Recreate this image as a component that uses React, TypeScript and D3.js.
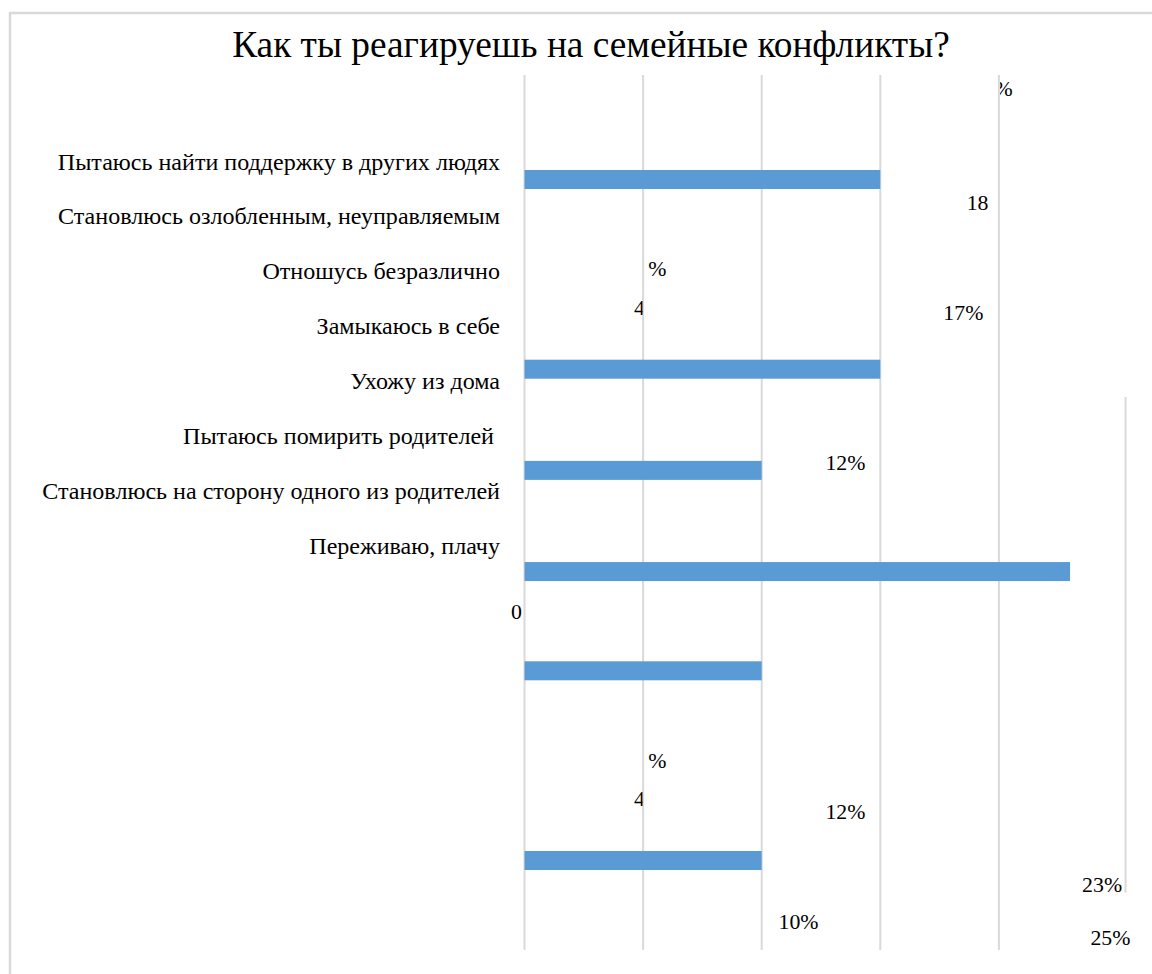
import React, { useLayoutEffect, useRef, useState } from "react";
import * as d3 from "d3";

const title = "Как ты реагируешь на семейные конфликты?";

const categories = [
  "Пытаюсь найти поддержку в других людях",
  "Становлюсь озлобленным, неуправляемым",
  "Отношусь безразлично",
  "Замыкаюсь в себе",
  "Ухожу из дома",
  "Пытаюсь помирить родителей ",
  "Становлюсь на сторону одного из родителей",
  "Переживаю, плачу",
];

// bars: value in percent, row position in chart row units
const barValues = [15, 15, 10, 23, 10, 10];
const barRows = [1.0, 2.95, 3.99, 5.03, 6.05, 8.0];

const gridTicks = [0, 5, 10, 15, 20];

// stray data labels: text, x (percent), row, clip side
const labelTexts = ["%", "18", "%", "4", "17%", "12%", "0", "%", "4", "12%", "23%", "10%", "25%"];
const labelX = [20.2, 19.1, 5.6, 4.85, 18.5, 13.53, -0.34, 5.6, 4.85, 13.53, 24.35, 11.55, 24.7];
const labelRows = [0.06, 1.24, 1.91, 2.32, 2.37, 3.91, 5.44, 6.97, 7.36, 7.5, 8.25, 8.63, 8.79];
const labelClip = ["left", "", "", "right", "", "", "", "", "right", "", "", "", ""];

const W = 1152;
const H = 974;
const FONT = "'Liberation Serif', 'Times New Roman', Tinos, Times, serif";
const GRID = "#d9d9d9";
const BAR = "#5b9bd5";

// text width targets used to size the fonts
const TITLE_W = 718;
const CAT_W = 458;
const LABEL_W = 40;

const CSS = `
svg#chartsvg, svg#chartsvg text, svg#chartsvg text.ser, svg#chartsvg tspan {
  font-family: 'Liberation Serif', 'Times New Roman', Tinos, Times, serif !important;
}
`;

export default function App() {
  const svgRef = useRef<SVGSVGElement>(null);
  const [tick, setTick] = useState(0);
  const [sizes, setSizes] = useState({ title: 36, cat: 22, label: 22 });
  const x = d3.scaleLinear().domain([0, 25]).range([524.5, 1117.5]);
  const y = d3.scaleLinear().domain([0, 9]).range([82.2, 957.8]);
  const yCat = d3.scalePoint<string>().domain(categories).range([162, 546]);
  const barH = 19;

  // fit font sizes to the reference text widths
  useLayoutEffect(() => {
    const svg = svgRef.current;
    if (!svg) return;
    const len = (sel: string) => {
      const el = svg.querySelector(sel) as SVGTextElement | null;
      return el ? el.getComputedTextLength() : 0;
    };
    const lt = len("text[data-role='title']");
    const lc = len("text[data-role='catfit']");
    const ll = len("text[data-role='labelfit']");
    const next = {
      title: lt > 0 ? (sizes.title * TITLE_W) / lt : sizes.title,
      cat: lc > 0 ? (sizes.cat * CAT_W) / lc : sizes.cat,
      label: ll > 0 ? (sizes.label * LABEL_W) / ll : sizes.label,
    };
    if (
      Math.abs(next.title - sizes.title) > 0.05 ||
      Math.abs(next.cat - sizes.cat) > 0.05 ||
      Math.abs(next.label - sizes.label) > 0.05
    ) {
      setSizes(next);
    }
  }, [tick, sizes]);

  // anchor texts by measured width
  useLayoutEffect(() => {
    if (!svgRef.current) return;
    d3.select(svgRef.current)
      .selectAll<SVGTextElement, unknown>("text[data-anchor]")
      .each(function () {
        const w = this.getComputedTextLength();
        const ax = +(this.getAttribute("data-x") || 0);
        const a = this.getAttribute("data-anchor");
        const nx = a === "end" ? ax - w : ax - w / 2;
        this.setAttribute("x", String(nx));
      });
  });

  useLayoutEffect(() => {
    const f = (document as any).fonts;
    if (f && f.ready) f.ready.then(() => setTick((t) => t + 1));
  }, []);

  const T = (props: any) => {
    const { ax, anchor, str, ...rest } = props;
    return (
      <text
        className="ser"
        data-x={ax}
        data-anchor={anchor}
        x={ax}
        fontFamily={FONT}
        style={{ fontFamily: FONT }}
        fill="#000"
        xmlSpace="preserve"
        {...rest}
      >
        {String(str)}
      </text>
    );
  };

  const longest = categories.reduce((a, b) => (b.length > a.length ? b : a), "");

  return (
    <svg
      id="chartsvg"
      ref={svgRef}
      width={W}
      height={H}
      fontFamily={FONT}
      style={{ position: "absolute", left: 0, top: 0, fontFamily: FONT }}
    >
      <style>{CSS}</style>
      <defs>
        <clipPath id="clipLeft">
          <rect x={x(20) + 1} y={0} width={200} height={H} />
        </clipPath>
        <clipPath id="clipRight">
          <rect x={0} y={0} width={x(5) - 0.5} height={H} />
        </clipPath>
      </defs>
      <line x1={10} x2={W} y1={13} y2={13} stroke={GRID} strokeWidth={2.5} />
      <line x1={10} x2={10} y1={12} y2={H} stroke={GRID} strokeWidth={2.5} />

      <T data-role="title" ax={591} anchor="middle" y={57} fontSize={sizes.title} str={title} />

      {gridTicks.map((t) => (
        <line key={t} x1={x(t)} x2={x(t)} y1={75} y2={950} stroke={GRID} strokeWidth={2} />
      ))}
      <line x1={x(25.34)} x2={x(25.34)} y1={y(3.235)} y2={y(8.33)} stroke={GRID} strokeWidth={2} />

      {barValues.map((v, i) => (
        <rect key={i} x={x(0)} y={y(barRows[i]) - barH / 2} width={x(v) - x(0)} height={barH} fill={BAR} />
      ))}

      {categories.map((c) => (
        <T
          key={c}
          data-role={c === longest ? "catfit" : "cat"}
          ax={500}
          anchor="end"
          y={(yCat(c) as number) + 7.5}
          fontSize={sizes.cat}
          str={c}
        />
      ))}

      {labelTexts.map((t, i) => (
        <T
          key={i}
          data-role={i === 4 ? "labelfit" : "label"}
          ax={x(labelX[i])}
          anchor="middle"
          y={y(labelRows[i]) + 7.5}
          fontSize={sizes.label}
          str={t}
          clipPath={labelClip[i] === "left" ? "url(#clipLeft)" : labelClip[i] === "right" ? "url(#clipRight)" : undefined}
        />
      ))}
    </svg>
  );
}
